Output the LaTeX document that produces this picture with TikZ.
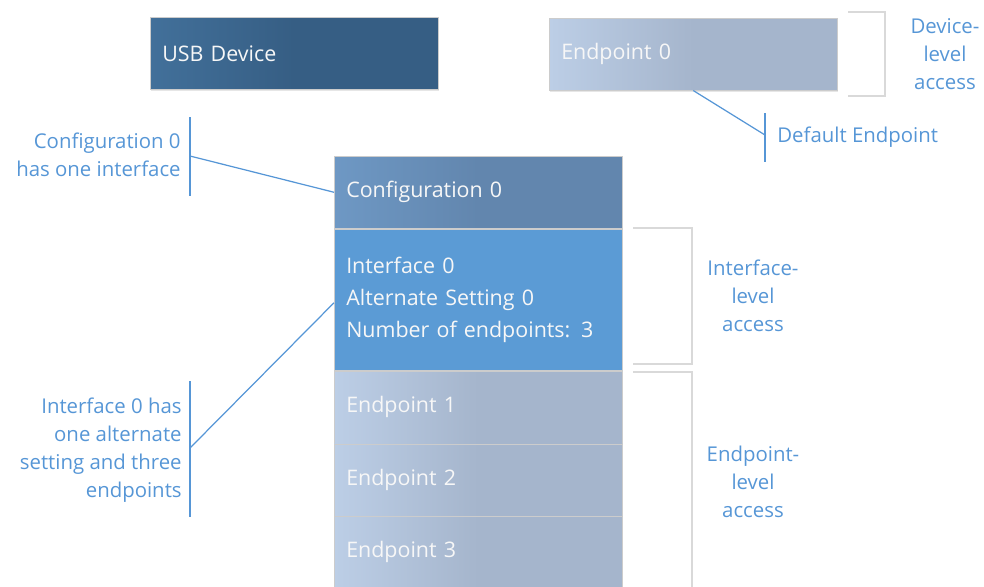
\documentclass[tikz,border=0pt]{standalone}
\usepackage{fontspec}
\setmainfont{Open Sans}
\usetikzlibrary{positioning,calc,shadows}
\definecolor{DeviceLeft}{RGB}{66,112,154}
\definecolor{DeviceRight}{RGB}{54,94,132}
\definecolor{CfgLeft}{RGB}{110,152,196}
\definecolor{CfgRight}{RGB}{98,134,174}
\definecolor{IfBlue}{RGB}{91,155,213}
\definecolor{EpLeft}{RGB}{188,206,230}
\definecolor{EpRight}{RGB}{165,181,204}
\definecolor{NoteBlue}{RGB}{86,150,214}
\definecolor{BracketGray}{RGB}{217,217,217}
\newcommand{\boxfont}{\fontsize{12.2}{18.1}\selectfont}
\newcommand{\notefont}{\fontsize{11.6}{16}\selectfont}

\begin{document}
\begin{tikzpicture}[x=0.02cm,y=-0.02cm,
    box/.style={anchor=north west,minimum width=5.76cm,minimum height=1.44cm,
                inner xsep=0.24cm,text width=5.28cm,align=left,
                text=white!94!gray,font=\boxfont,draw=black!20,line width=0.3pt,
                drop shadow={shadow xshift=0.6pt,shadow yshift=-0.8pt,opacity=0.2}},
    devbox/.style={box,left color=DeviceLeft,right color=DeviceRight,middle color=DeviceRight},
    epbox/.style={box,left color=EpLeft,right color=EpRight,middle color=EpRight},
    cfgbox/.style={box,left color=CfgLeft,right color=CfgRight,middle color=CfgRight},
    ifbox/.style={box,fill=IfBlue,minimum height=2.84cm},
    note/.style={text=NoteBlue,font=\notefont,inner sep=0pt},
    callout/.style={NoteBlue,line width=0.7pt},
    bracket/.style={BracketGray,line width=1.3pt}
  ]
  \clip (0,0) rectangle (984,586);

  % top row
  \node[devbox] (usb) at (150,17) {USB Device};
  \node[epbox]  (ep0) at (549,18) {Endpoint 0};

  % configuration stack
  \node[cfgbox] (cfg) at (334,156) {Configuration 0};
  \node[ifbox]  (ifc) at (cfg.south west)
    {Interface 0\\Alternate Setting 0\\Number of endpoints: 3};
  \node[epbox]  (ep1) at (ifc.south west) {Endpoint 1};
  \node[epbox]  (ep2) at (ep1.south west) {Endpoint 2};
  \node[epbox]  (ep3) at (ep2.south west) {Endpoint 3};

  % access brackets
  \draw[bracket] (848,12) -- (885,12) -- (885,96) -- (848,96);
  \draw[bracket] (633,228) -- (692,228) -- (692,364) -- (633,364);
  \draw[bracket] (633,372) -- (692,372) -- (692,600);
  \node[note,align=center] (devacc) at (945,54) {Device-\\level\\access};
  \node[note,align=center] (ifacc) at (753,296) {Interface-\\level\\access};
  \node[note,align=center] (epacc) at (753,482) {Endpoint-\\level\\access};

  % callouts
  \coordinate (dftop) at (765,113);
  \coordinate (dfbot) at (765,162);
  \coordinate (dfmid) at (765,135);
  \draw[callout] (dftop) -- (dfbot);
  \draw[callout] (ep0.south) -- (dfmid);
  \node[note,anchor=west] (dfnote) at (777,137) {Default Endpoint};

  \coordinate (cftop) at (190,117);
  \coordinate (cfbot) at (190,196);
  \coordinate (cfmid) at (190,156);
  \draw[callout] (cftop) -- (cfbot);
  \draw[callout] (cfmid) -- (cfg.west);
  \node[note,align=right,anchor=east] (cfnote) at (181,155)
    {Configuration 0\\has one interface};

  \coordinate (iftop) at (190,381);
  \coordinate (ifbot) at (190,517);
  \coordinate (ifmid) at (190,448);
  \draw[callout] (iftop) -- (ifbot);
  \draw[callout] (ifmid) -- ($(ifc.west)+(0,3)$);
  \node[note,align=right,anchor=east] (ifnote) at (182,450)
    {Interface 0 has\\one alternate\\setting and three\\endpoints};
\end{tikzpicture}
\end{document}
